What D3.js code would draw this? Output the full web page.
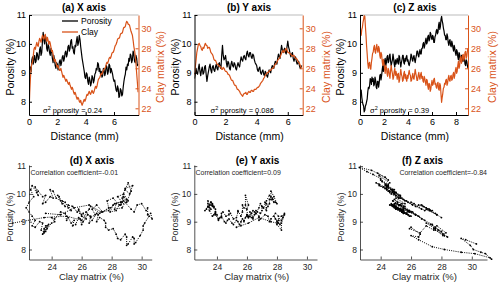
<!DOCTYPE html>
<meta charset="utf-8">
<style>
body {
  margin: 0;
  background: #fff;
  font-family: "Liberation Sans", Arial, sans-serif;
}
.tick text {
  font-family: "Liberation Sans", Arial, sans-serif;
}
</style>
<body>
<svg width="500" height="292"></svg>
<script src="https://d3js.org/d3.v7.min.js"></script>
<script>

// sampling step along each profile (mm)
var stepMm = 0.05;

// (a) X axis profile, 0 - 7.7 mm
var porosityX = [8.95, 9.15, 9.2, 9.05, 9.45, 9.55, 9.3, 9.5, 9.6, 9.35,
  9.4, 9.7, 9.65, 9.45, 9.5, 9.8, 9.9, 9.6, 9.7, 10.1,
  10.4, 10.15, 10.0, 10.3, 10.2, 9.85, 9.75, 10.0, 9.9, 9.7,
  9.6, 9.85, 9.75, 9.5, 9.35, 9.6, 9.45, 9.25, 9.15, 9.35,
  9.3, 9.1, 9.2, 9.4, 9.45, 9.25, 9.35, 9.55, 9.6, 9.4,
  9.5, 9.7, 9.75, 9.55, 9.65, 9.9, 9.95, 9.75, 9.85, 10.1,
  10.15, 9.85, 9.9, 9.7, 9.65, 9.95, 9.9, 10.1, 10.25, 9.95,
  10.05, 10.3, 10.15, 9.9, 9.7, 9.5, 9.35, 9.2, 9.05, 8.85,
  8.8, 9.0, 8.95, 8.7, 8.6, 8.85, 8.75, 8.55, 8.65, 8.9,
  8.85, 8.65, 8.75, 8.95, 9.0, 9.15, 9.1, 9.35, 9.3, 9.05,
  9.15, 8.95, 9.05, 8.85, 8.9, 9.15, 9.1, 8.9, 9.0, 9.25,
  9.2, 8.95, 9.05, 9.3, 9.25, 9.0, 9.15, 9.05, 8.95, 8.8,
  8.7, 8.75, 8.55, 8.4, 8.35, 8.55, 8.45, 8.15, 8.2, 8.45,
  8.4, 8.2, 8.25, 8.5, 8.7, 8.85, 8.95, 9.2, 9.1, 9.3,
  9.25, 9.5, 9.4, 9.65, 9.6, 9.35, 9.45, 9.75, 9.65, 9.4,
  9.35, 9.6, 9.5, 9.25, 9.3];
var clayX = [21.4, 23.5, 25.0, 26.0, 26.5, 26.6, 27.2, 27.9, 28.1, 27.9,
  28.3, 28.6, 28.3, 28.2, 28.7, 29.0, 28.8, 28.6, 29.0, 29.3,
  29.1, 28.9, 29.2, 29.4, 28.9, 28.7, 29.1, 28.8, 28.4, 28.7,
  28.5, 28.1, 27.7, 27.8, 27.4, 27.0, 26.7, 26.9, 26.6, 26.3,
  26.1, 26.3, 26.0, 25.8, 25.8, 26.0, 25.7, 25.4, 25.1, 25.3,
  25.1, 24.9, 24.7, 24.9, 24.7, 24.5, 24.4, 24.6, 24.3, 24.1,
  23.9, 24.1, 23.9, 23.6, 23.4, 23.6, 23.4, 23.1, 22.9, 23.1,
  23.0, 22.7, 22.6, 22.8, 22.5, 22.3, 22.5, 22.7, 22.9, 22.7,
  22.9, 23.2, 23.4, 23.3, 23.5, 23.7, 23.5, 23.4, 23.6, 23.8,
  23.6, 23.5, 23.7, 24.0, 24.2, 24.0, 24.2, 24.6, 24.9, 25.0,
  25.1, 25.3, 25.5, 25.4, 25.6, 25.8, 25.9, 26.0, 26.1, 26.4,
  26.6, 26.5, 26.7, 27.0, 27.1, 27.0, 27.2, 27.5, 27.6, 27.6,
  27.8, 28.1, 28.3, 28.4, 28.6, 28.9, 29.0, 29.0, 29.1, 29.4,
  29.5, 29.5, 29.6, 29.9, 30.1, 30.1, 30.2, 30.5, 30.7, 30.6,
  30.4, 30.4, 30.3, 30.0, 29.7, 29.5, 29.3, 28.8, 28.2, 27.8,
  27.3, 26.5, 25.5, 24.6, 23.6];

// (b) Y axis profile, 0 - 6.9 mm
var porosityY = [8.8, 8.95, 9.15, 9.0, 8.95, 9.15, 9.3, 9.05, 8.9, 9.1,
  9.2, 8.95, 9.0, 9.2, 9.25, 8.95, 8.7, 8.9, 9.05, 9.2,
  9.3, 9.1, 9.0, 9.2, 9.25, 9.1, 9.05, 9.2, 9.3, 9.15,
  9.1, 9.3, 9.35, 9.2, 9.15, 9.6, 9.95, 9.6, 9.45, 9.5,
  9.6, 9.35, 9.2, 9.4, 9.35, 9.15, 9.1, 9.3, 9.4, 9.25,
  9.2, 9.35, 9.3, 9.15, 9.1, 9.25, 9.35, 9.25, 9.2, 9.4,
  9.55, 9.45, 9.4, 9.55, 9.6, 9.5, 9.45, 9.65, 9.75, 9.6,
  9.55, 9.7, 9.7, 9.55, 9.5, 9.65, 9.6, 9.45, 9.35, 9.3,
  9.25, 9.1, 9.05, 9.15, 9.2, 9.0, 8.95, 9.05, 9.1, 8.95,
  8.9, 9.05, 9.0, 8.9, 8.85, 9.0, 9.1, 9.05, 9.0, 9.15,
  9.25, 9.2, 9.15, 9.3, 9.4, 9.35, 9.3, 9.5, 9.65, 9.55,
  9.5, 9.75, 9.95, 9.8, 9.7, 9.8, 9.85, 9.7, 9.65, 9.9,
  10.1, 9.9, 9.8, 9.65, 9.55, 9.65, 9.7, 9.5, 9.4, 9.5,
  9.55, 9.4, 9.3, 9.35, 9.4, 9.25, 9.15, 9.2, 9.25];
var clayY = [25.3, 26.1, 26.8, 27.6, 28.0, 28.4, 28.5, 28.3, 28.2, 27.9,
  27.8, 28.1, 28.0, 28.3, 28.5, 28.3, 28.3, 28.0, 28.1, 28.1,
  27.9, 27.6, 27.5, 27.4, 27.2, 26.9, 26.8, 26.8, 26.6, 26.4,
  26.4, 26.3, 26.2, 26.2, 26.1, 25.9, 25.9, 26.1, 26.0, 25.8,
  25.7, 25.7, 25.6, 25.4, 25.4, 25.3, 25.1, 24.9, 24.8, 24.8,
  24.6, 24.4, 24.3, 24.3, 24.1, 23.9, 23.9, 23.8, 23.7, 23.5,
  23.4, 23.3, 23.2, 23.4, 23.5, 23.5, 23.6, 23.4, 23.4, 23.6,
  23.7, 23.6, 23.6, 23.8, 23.8, 23.7, 23.7, 23.9, 23.9, 23.9,
  24.0, 24.1, 24.1, 24.2, 24.3, 24.5, 24.6, 24.7, 24.8, 25.0,
  25.1, 25.3, 25.4, 25.5, 25.6, 25.6, 25.7, 25.8, 25.8, 25.9,
  26.0, 26.0, 26.1, 26.3, 26.4, 26.5, 26.6, 26.8, 26.9, 27.0,
  27.1, 27.3, 27.5, 27.7, 27.8, 27.6, 27.7, 27.9, 28.0, 27.8,
  27.6, 27.6, 27.5, 27.5, 27.4, 27.3, 27.2, 27.3, 27.3, 27.1,
  27.0, 27.0, 26.9, 26.7, 26.6, 26.5, 26.3, 26.1, 26.0];

// (c) Z axis profile, 0 - 9.0 mm
var porosityZ = [8.2, 8.35, 8.4, 8.15, 8.0, 7.9, 7.85, 7.65, 7.7, 7.85,
  7.9, 8.0, 8.1, 8.35, 8.5, 8.45, 8.55, 8.8, 8.75, 8.6,
  8.85, 8.7, 8.8, 8.55, 8.6, 8.85, 8.75, 8.5, 8.45, 8.7,
  8.7, 8.5, 8.65, 8.9, 8.95, 8.75, 8.9, 9.1, 9.25, 9.05,
  9.2, 9.4, 9.5, 9.25, 9.35, 9.55, 9.6, 9.35, 9.4, 9.6,
  9.65, 9.4, 9.25, 9.35, 9.45, 9.65, 9.5, 9.3, 9.2, 9.45,
  9.3, 9.4, 9.5, 9.35, 9.3, 9.6, 9.55, 9.35, 9.2, 9.35,
  9.45, 9.6, 9.6, 9.35, 9.3, 9.5, 9.4, 9.55, 9.6, 9.4,
  9.45, 9.3, 9.25, 9.35, 9.45, 9.65, 9.6, 9.45, 9.4, 9.55,
  9.6, 9.45, 9.35, 9.5, 9.6, 9.75, 9.75, 9.6, 9.55, 9.7,
  9.8, 9.65, 9.65, 9.85, 9.85, 10.0, 10.05, 9.85, 9.95, 10.1,
  10.2, 10.0, 10.05, 10.25, 10.3, 10.1, 10.15, 10.4, 10.35, 10.2,
  10.15, 10.3, 10.25, 10.05, 10.05, 10.25, 10.3, 10.45, 10.5, 10.35,
  10.4, 10.65, 10.75, 10.5, 10.6, 10.85, 10.95, 10.8, 10.7, 10.55,
  10.45, 10.3, 10.3, 10.15, 10.15, 10.35, 10.25, 10.05, 9.95, 10.1,
  10.15, 9.95, 9.9, 10.1, 10.0, 9.85, 9.75, 9.95, 9.85, 9.7,
  9.6, 9.8, 9.75, 9.55, 9.45, 9.7, 9.65, 9.4, 9.45, 9.6,
  9.6, 9.4, 9.4, 9.55, 9.5, 9.3, 9.25, 9.45, 9.4, 9.25,
  9.15];
var clayZ = [30.3, 29.6, 29.3, 29.9, 30.1, 30.6, 30.9, 31.3, 31.2, 30.2,
  29.3, 28.2, 27.4, 26.5, 26.0, 26.5, 26.6, 26.0, 25.9, 26.6,
  27.0, 27.5, 27.6, 28.1, 28.3, 27.7, 27.5, 28.1, 28.4, 27.8,
  27.6, 28.2, 28.0, 27.3, 27.0, 27.6, 27.4, 26.7, 26.3, 26.9,
  26.5, 25.9, 25.5, 26.3, 26.1, 25.5, 25.2, 26.0, 25.8, 25.3,
  25.0, 25.8, 26.3, 25.8, 25.5, 24.9, 25.1, 25.7, 26.0, 25.3,
  25.7, 25.4, 24.9, 25.4, 25.5, 24.6, 24.8, 25.4, 25.9, 25.4,
  25.2, 24.7, 24.8, 25.5, 25.7, 25.0, 25.4, 24.9, 24.7, 25.3,
  25.0, 25.5, 25.8, 25.4, 25.3, 24.7, 24.8, 25.2, 25.5, 25.0,
  24.9, 25.4, 25.9, 25.5, 25.2, 24.8, 24.8, 25.3, 25.6, 25.1,
  24.9, 25.4, 25.6, 25.0, 25.2, 24.7, 24.6, 25.2, 25.0, 24.6,
  24.3, 24.9, 24.8, 24.2, 23.9, 24.5, 24.4, 23.7, 23.9, 24.4,
  24.8, 24.3, 24.4, 24.9, 25.0, 24.4, 24.5, 24.1, 24.0, 24.5,
  24.6, 23.9, 23.8, 24.5, 24.3, 23.4, 22.6, 23.1, 23.5, 24.0,
  24.1, 24.5, 24.4, 24.8, 24.9, 24.3, 24.5, 25.0, 25.3, 24.8,
  24.7, 25.2, 25.3, 24.8, 24.9, 25.4, 25.6, 25.0, 25.3, 25.8,
  26.1, 25.5, 25.7, 26.3, 26.7, 26.0, 26.2, 26.9, 27.2, 26.5,
  26.7, 27.3, 27.4, 26.8, 27.0, 27.6, 27.7, 27.0, 27.2, 27.7,
  28.0];

var porosityTicks = [8, 9, 10, 11];
var clayTicks = [22, 24, 26, 28, 30];
var distTicksXY = [0, 2, 4, 6];
var distTicksZ = [0, 2, 4, 6, 8];
var scatterClayTicks = [24, 26, 28, 30];

var variances = ["0.24", "0.086", "0.39"];
var correlations = ["-0.01", "0.09", "-0.84"];

var orange = "#d95319",
    grey = "#262626";

var svg = d3.select("svg");

// top row: porosity and clay along distance
var topRow = [
  {title: "(a) X axis", por: porosityX, clay: clayX, left: 29, right: 138.5, xMax: 7.73, ticks: distTicksXY, sigma: variances[0], sigmaX: 43, titleX: 84, rightLabelX: 160, leftLabelX: 10},
  {title: "(b) Y axis", por: porosityY, clay: clayY, left: 194.5, right: 302.7, xMax: 6.96, ticks: distTicksXY, sigma: variances[1], sigmaX: 210.5, titleX: 249, rightLabelX: 326, leftLabelX: 175},
  {title: "(c) Z axis", por: porosityZ, clay: clayZ, left: 360, right: 468, xMax: 9.0, ticks: distTicksZ, sigma: variances[2], sigmaX: 370, titleX: 415, rightLabelX: 491.5, leftLabelX: 340}
];
var topY0 = 15, topY1 = 115;

topRow.forEach(function(p, k) {
  var x = d3.scaleLinear().domain([0, p.xMax]).range([p.left, p.right]),
      yP = d3.scaleLinear().domain([7.54, 11]).range([topY1, topY0]),
      yC = d3.scaleLinear().domain([21.33, 31.33]).range([topY1, topY0]);

  var g = svg.append("g");

  g.append("clipPath").attr("id", "clipTop" + k)
    .append("rect")
    .attr("x", p.left).attr("y", topY0)
    .attr("width", p.right - p.left).attr("height", topY1 - topY0);

  var lineP = d3.line().x(function(d, i) { return x(i * stepMm); }).y(function(d) { return yP(d); });
  var lineC = d3.line().x(function(d, i) { return x(i * stepMm); }).y(function(d) { return yC(d); });

  g.append("path").datum(p.por)
    .attr("clip-path", "url(#clipTop" + k + ")")
    .attr("fill", "none").attr("stroke", "#000").attr("stroke-width", 1.2)
    .attr("stroke-linejoin", "round")
    .attr("d", lineP);

  g.append("path").datum(p.clay)
    .attr("clip-path", "url(#clipTop" + k + ")")
    .attr("fill", "none").attr("stroke", orange).attr("stroke-width", 1.2)
    .attr("stroke-linejoin", "round")
    .attr("d", lineC);

  // top edge of the box
  g.append("line")
    .attr("x1", p.left).attr("x2", p.right)
    .attr("y1", topY0).attr("y2", topY0)
    .attr("stroke", "#aaa").attr("stroke-width", 0.8);

  var axL = g.append("g")
    .attr("transform", "translate(" + p.left + ",0)")
    .call(d3.axisLeft(yP).tickValues(porosityTicks).tickSize(-3).tickSizeOuter(0).tickPadding(3).tickFormat(d3.format("d")));
  var axR = g.append("g")
    .attr("transform", "translate(" + p.right + ",0)")
    .call(d3.axisRight(yC).tickValues(clayTicks).tickSize(-3).tickSizeOuter(0).tickPadding(3).tickFormat(d3.format("d")));
  var axB = g.append("g")
    .attr("transform", "translate(0," + topY1 + ")")
    .call(d3.axisBottom(x).tickValues(p.ticks).tickSize(-3).tickSizeOuter(0).tickPadding(4).tickFormat(d3.format("d")));

  [axL, axB].forEach(function(a) {
    a.select(".domain").attr("stroke", "#000");
    a.selectAll(".tick line").attr("stroke", "#000");
    a.selectAll(".tick text").attr("fill", "#000").style("font-size", "9px");
  });
  axR.select(".domain").attr("stroke", orange);
  axR.selectAll(".tick line").attr("stroke", orange);
  axR.selectAll(".tick text").attr("fill", orange).style("font-size", "9px");

  g.append("text")
    .attr("x", p.titleX).attr("y", 11)
    .attr("text-anchor", "middle")
    .style("font-size", "10px").style("font-weight", "bold")
    .text(p.title);

  g.append("text")
    .attr("x", (p.left + p.right) / 2 + 1).attr("y", 140)
    .attr("text-anchor", "middle")
    .style("font-size", "10.5px")
    .text("Distance (mm)");

  g.append("text")
    .attr("transform", "translate(" + (p.leftLabelX + 4) + "," + 67 + ") rotate(-90)")
    .attr("text-anchor", "middle")
    .style("font-size", "10.5px")
    .text("Porosity (%)");

  g.append("text")
    .attr("transform", "translate(" + (p.rightLabelX + 4) + "," + 67 + ") rotate(-90)")
    .attr("text-anchor", "middle")
    .attr("fill", orange)
    .style("font-size", "10.5px")
    .text("Clay matrix (%)");

  var s = g.append("text")
    .attr("x", p.sigmaX).attr("y", 113)
    .style("font-size", "7.5px");
  s.append("tspan").text("\u03c3");
  s.append("tspan").attr("dy", -3).style("font-size", "5.5px").text("2");
  s.append("tspan").attr("dy", 3).text(" porosity = " + p.sigma);

  if (k === 0) {
    var legend = [{name: "Porosity", color: "#000", y: 21}, {name: "Clay", color: orange, y: 32}];
    legend.forEach(function(l) {
      g.append("line")
        .attr("x1", 62).attr("x2", 78).attr("y1", l.y).attr("y2", l.y)
        .attr("stroke", l.color).attr("stroke-width", 1.3);
      g.append("text")
        .attr("x", 81).attr("y", l.y + 3)
        .style("font-size", "8.5px")
        .text(l.name);
    });
  }
});

// bottom row: porosity against clay matrix
var bottomRow = [
  {title: "(d) X axis", por: porosityX, clay: clayX, left: 29, right: 151.7, xDom: [22.49, 30.67], r: correlations[0], titleX: 92, corrX: 30.5, anchor: "start"},
  {title: "(e) Y axis", por: porosityY, clay: clayY, left: 194.3, right: 317, xDom: [22.49, 30.67], r: correlations[1], titleX: 257.5, corrX: 195.5, anchor: "start"},
  {title: "(f) Z axis", por: porosityZ, clay: clayZ, left: 360, right: 487, xDom: [22.64, 31.0], r: correlations[2], titleX: 422.5, corrX: 487, anchor: "end"}
];
var botY0 = 165, botY1 = 259.5;

bottomRow.forEach(function(p, k) {
  var x = d3.scaleLinear().domain(p.xDom).range([p.left, p.right]),
      y = d3.scaleLinear().domain([7.64, 11.04]).range([botY1, botY0]);

  var g = svg.append("g");
  var n = Math.min(p.clay.length, p.por.length);
  var pts = d3.range(n).map(function(i) { return [p.clay[i], p.por[i]]; });

  g.append("path").datum(pts)
    .attr("fill", "none").attr("stroke", "#000").attr("stroke-width", 1)
    .attr("stroke-dasharray", "1,1.2")
    .attr("d", d3.line().x(function(d) { return x(d[0]); }).y(function(d) { return y(d[1]); }));

  g.selectAll(".dot")
    .data(pts)
    .enter().append("circle")
      .attr("class", "dot")
      .attr("r", 0.9)
      .attr("cx", function(d) { return x(d[0]); })
      .attr("cy", function(d) { return y(d[1]); })
      .attr("fill", "#000");

  var axL = g.append("g")
    .attr("transform", "translate(" + p.left + ",0)")
    .call(d3.axisLeft(y).tickValues(porosityTicks).tickSize(-3).tickSizeOuter(0).tickPadding(3).tickFormat(d3.format("d")));
  var axB = g.append("g")
    .attr("transform", "translate(0," + botY1 + ")")
    .call(d3.axisBottom(x).tickValues(scatterClayTicks).tickSize(-3).tickSizeOuter(0).tickPadding(4).tickFormat(d3.format("d")));

  [axL, axB].forEach(function(a) {
    a.select(".domain").attr("stroke", grey).attr("stroke-width", 0.8);
    a.selectAll(".tick line").attr("stroke", grey).attr("stroke-width", 0.8);
    a.selectAll(".tick text").attr("fill", grey).style("font-size", "8.5px");
  });

  g.append("text")
    .attr("x", p.titleX).attr("y", 164)
    .attr("text-anchor", "middle")
    .style("font-size", "10px").style("font-weight", "bold")
    .text(p.title);

  g.append("text")
    .attr("x", p.corrX).attr("y", 174.5)
    .attr("text-anchor", p.anchor)
    .attr("fill", grey)
    .style("font-size", "7px")
    .text("Correlation coefficient=" + p.r);

  g.append("text")
    .attr("x", (p.left + p.right) / 2 + 1).attr("y", 280)
    .attr("text-anchor", "middle")
    .attr("fill", grey)
    .style("font-size", "9.5px")
    .text("Clay matrix (%)");

  g.append("text")
    .attr("transform", "translate(" + (p.left - 16) + "," + 217 + ") rotate(-90)")
    .attr("text-anchor", "middle")
    .attr("fill", grey)
    .style("font-size", "9px")
    .text("Porosity (%)");
});

</script>
